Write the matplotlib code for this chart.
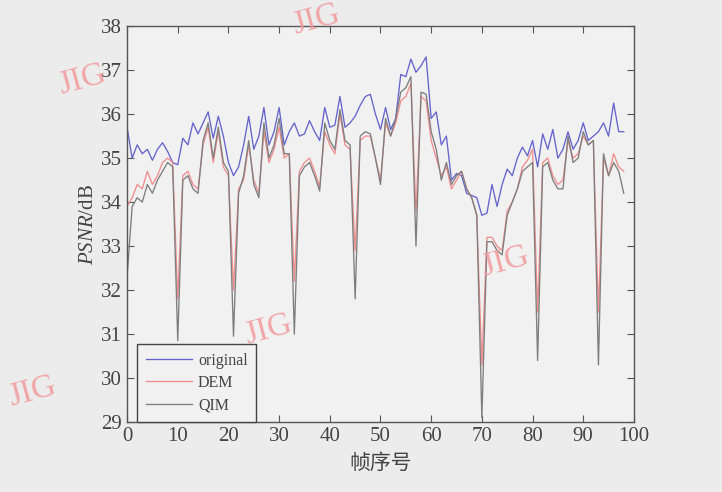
import numpy as np
import matplotlib
matplotlib.use('Agg')
import matplotlib.pyplot as plt

plt.rcParams['font.family'] = ['Liberation Serif', 'DejaVu Serif']
plt.rcParams['mathtext.fontset'] = 'custom'
plt.rcParams['mathtext.rm'] = 'Liberation Serif'
plt.rcParams['mathtext.it'] = 'Liberation Serif:italic'

### data (frame 0..98)
frames = np.arange(99)

original = [35.7, 35.0, 35.3, 35.1, 35.2, 34.95, 35.2, 35.35, 35.15, 34.9,
            34.85, 35.45, 35.3, 35.8, 35.55, 35.8, 36.05, 35.45, 35.95, 35.5,
            34.9, 34.6, 34.8, 35.3, 35.95, 35.2, 35.5, 36.15, 35.3, 35.6,
            36.15, 35.3, 35.6, 35.8, 35.5, 35.55, 35.85, 35.6, 35.4, 36.15,
            35.7, 35.75, 36.4, 35.7, 35.8, 35.95, 36.2, 36.4, 36.45, 36.0,
            35.65, 36.15, 35.65, 35.9, 36.9, 36.85, 37.25, 36.95, 37.1, 37.3,
            35.9, 36.05, 35.3, 35.5, 34.5, 34.65, 34.6, 34.2, 34.15, 34.1,
            33.7, 33.75, 34.4, 33.9, 34.4, 34.75, 34.6, 35.0, 35.25, 35.05,
            35.4, 34.8, 35.55, 35.2, 35.65, 35.0, 35.2, 35.6, 35.2, 35.4,
            35.8, 35.4, 35.5, 35.6, 35.8, 35.5, 36.25, 35.6, 35.6]

dem = [33.9, 34.1, 34.4, 34.3, 34.7, 34.4, 34.6, 34.9, 35.0, 34.9,
       31.8, 34.6, 34.7, 34.4, 34.3, 35.3, 35.7, 34.9, 35.6, 34.8,
       34.6, 32.0, 34.3, 34.5, 35.3, 34.5, 34.2, 35.6, 34.9, 35.2,
       35.7, 35.0, 35.1, 32.2, 34.7, 34.9, 35.0, 34.7, 34.35, 35.6,
       35.3, 35.1, 36.0, 35.3, 35.2, 32.9, 35.4, 35.5, 35.5, 35.0,
       34.5, 35.8, 35.5, 35.8, 36.3, 36.4, 36.7, 33.8, 36.4, 36.3,
       35.4, 35.0, 34.6, 34.8, 34.3, 34.5, 34.7, 34.3, 34.1, 33.7,
       30.3, 33.2, 33.2, 33.0, 32.9, 33.8, 34.0, 34.3, 34.8, 34.95,
       35.2, 31.5, 34.9, 35.0, 34.6, 34.4, 34.5, 35.4, 35.0, 35.1,
       35.5, 35.3, 35.4, 31.5, 35.0, 34.6, 35.1, 34.8, 34.7]

qim = [32.3, 33.9, 34.1, 34.0, 34.4, 34.2, 34.5, 34.7, 34.9, 34.8,
       30.85, 34.5, 34.6, 34.3, 34.2, 35.4, 35.8, 35.0, 35.7, 34.9,
       34.7, 30.95, 34.2, 34.6, 35.4, 34.4, 34.1, 35.8, 35.0, 35.3,
       35.9, 35.1, 35.1, 31.0, 34.6, 34.8, 34.9, 34.6, 34.25, 35.8,
       35.4, 35.2, 36.1, 35.4, 35.3, 31.8, 35.5, 35.6, 35.55, 35.0,
       34.4, 35.9, 35.5, 35.9, 36.5, 36.6, 36.85, 33.0, 36.5, 36.45,
       35.6, 35.2, 34.5, 34.9, 34.4, 34.6, 34.7, 34.3, 34.1, 33.7,
       29.1, 33.1, 33.1, 32.9, 32.8, 33.7, 34.0, 34.3, 34.7, 34.8,
       34.9, 30.4, 34.8, 34.9, 34.5, 34.3, 34.3, 35.5, 34.9, 35.0,
       35.6, 35.3, 35.4, 30.3, 35.1, 34.6, 34.9, 34.7, 34.2]

series_names = ['original', 'DEM', 'QIM']
series_colors = ['#6464cc', '#f08e8e', '#7e7e7e']

fig = plt.figure(figsize=(7.22, 4.92), dpi=100, facecolor='#ececec')
ax = fig.add_axes([0.176, 0.142, 0.702, 0.805])
ax.set_facecolor('#f1f1f1')

for ys, name, c in zip([original, dem, qim], series_names, series_colors):
    ax.plot(frames, ys, color=c, linewidth=0.95, label=name)

ax.set_xlim(0, 100)
ax.set_ylim(29, 38)
ax.set_xticks(np.arange(0, 101, 10))
ax.set_yticks(np.arange(29, 39, 1))
ax.tick_params(direction='in', top=True, right=True, length=5,
               labelsize=15, colors='#555555', labelcolor='#444444')
for s in ax.spines.values():
    s.set_color('#555555')
    s.set_linewidth(1.0)

ax.set_ylabel(r'$PSNR$/dB', fontsize=15, color='#444444', labelpad=2)
ax.set_xlabel('帧序号', fontsize=15, color='#444444',
              family=['Noto Sans CJK SC', 'DejaVu Sans'], labelpad=4)

leg = ax.legend(loc='lower left', bbox_to_anchor=(0.02, 0.0), borderaxespad=0,
                fontsize=11.5, handlelength=2.9, handletextpad=0.35,
                fancybox=False, framealpha=1.0, facecolor='#f1f1f1',
                edgecolor='#444444', borderpad=0.55, labelspacing=0.4)
leg.get_frame().set_linewidth(1.0)
for t in leg.get_texts():
    t.set_color('#444444')

# journal watermarks
wm = [(316, 20), (82, 80), (505, 262), (268, 330), (32, 392)]
for px, py in wm:
    fig.text(px / 722, 1 - py / 492, 'JIG', fontsize=24, color='#f29a9a',
             alpha=0.85, rotation=15, ha='center', va='center')

fig.savefig('out.png', dpi=100, facecolor=fig.get_facecolor())
